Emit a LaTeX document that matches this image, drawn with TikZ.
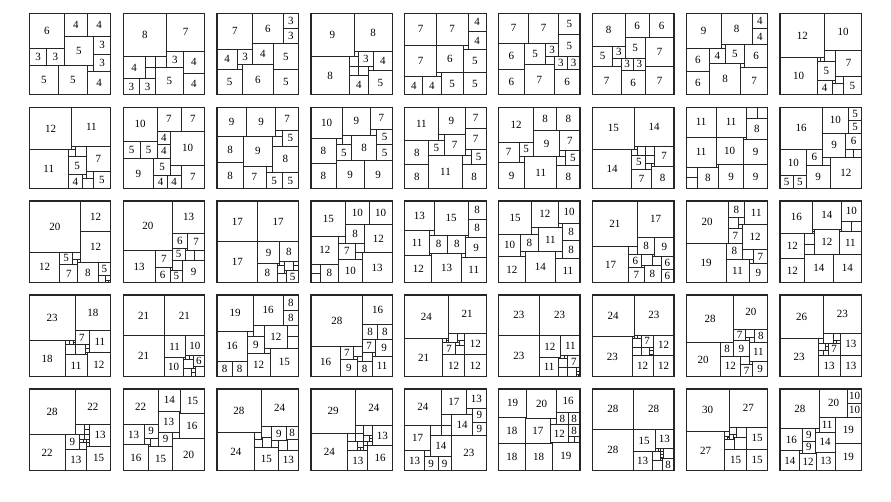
\documentclass[tikz,border=0pt]{standalone}
\usepackage{fontspec}
\setmainfont{Liberation Serif}
\tikzset{
  cell/.style={draw=black!85,line width=0.75pt},
  frame/.style={draw=black!85,line width=1.3pt},
  num/.style={inner sep=0pt,font=\fontsize{11}{11}\selectfont}
}
\newcommand\quilt[4]{%
  \pgfmathsetmacro\qu{81.5/#3}%
  \begin{scope}[shift={(29.3+93.85*#1,-13.3-93.9*#2)},x=\qu pt,y=-\qu pt]
    \foreach \a/\b/\s in {#4}{%
      \draw[cell] (\a,\b) rectangle ++(\s,\s);
      \pgfmathtruncatemacro\lab{(\s/#3>0.141)?1:0}%
      \ifnum\lab=1 \node[num] (q#3-\a-\b) at (\a+\s/2,\b+\s/2) {\s};\fi
    }
    \draw[frame] (0,0) rectangle (#3,#3);
  \end{scope}}
\begin{document}
\begin{tikzpicture}[x=1pt,y=1pt]
\useasboundingbox[fill=white] (0,0) rectangle (891,-501);
% row 1
\quilt{0}{0}{14}{0/0/6,6/0/4,10/0/4,6/4/5,11/4/3,11/7/3,0/6/3,3/6/3,0/9/5,5/9/5,10/9/1,10/10/4}
\quilt{1}{0}{15}{0/0/8,8/0/7,0/8/4,4/8/2,6/8/2,4/10/2,0/12/3,3/12/3,8/7/3,11/7/4,6/10/5,11/11/4}
\quilt{2}{0}{16}{0/0/7,7/0/6,13/0/3,13/3/3,0/7/4,4/7/3,7/6/4,11/6/5,4/10/1,0/11/5,5/10/6,11/11/5}
\quilt{3}{0}{17}{0/0/9,9/0/8,0/9/8,9/8/1,8/9/2,8/11/2,10/8/3,10/11/2,12/11/1,13/8/4,8/13/4,12/12/5}
\quilt{4}{0}{18}{0/0/7,7/0/7,14/0/4,14/4/4,0/7/7,7/7/6,13/7/1,13/8/5,0/14/4,4/14/4,7/13/1,8/13/5,13/13/5}
\quilt{5}{0}{19}{0/0/7,7/0/7,14/0/5,14/5/5,0/7/6,6/7/5,11/7/3,11/10/2,13/10/3,16/10/3,0/13/6,6/12/7,13/13/6}
\quilt{6}{0}{20}{0/0/8,8/0/6,14/0/6,0/8/5,5/8/3,8/6/5,13/6/7,5/11/2,7/11/3,10/11/3,0/13/7,7/14/6,13/13/7}
\quilt{7}{0}{21}{0/0/9,9/0/8,17/0/4,17/4/4,0/9/6,6/9/4,9/8/1,10/8/5,15/8/6,0/15/6,6/13/8,14/13/1,14/14/7}
\quilt{8}{0}{22}{0/0/12,12/0/10,12/10/3,15/10/7,0/12/10,10/12/1,11/12/1,10/13/5,10/18/4,15/17/2,14/18/1,14/19/3,17/17/5}
% row 2
\quilt{0}{1}{23}{0/0/12,12/0/11,12/11/1,13/11/3,16/11/7,0/12/11,11/12/2,11/14/5,11/19/4,16/18/2,15/19/1,15/20/3,18/18/5}
\quilt{1}{1}{24}{0/0/10,10/0/7,17/0/7,0/10/5,5/10/5,10/7/4,10/11/4,14/7/10,0/15/9,9/15/5,9/20/4,13/20/4,14/17/3,17/17/7}
\quilt{2}{1}{25}{0/0/9,9/0/9,18/0/7,18/7/2,20/7/5,0/9/8,8/9/9,17/9/3,17/12/8,0/17/8,8/18/7,15/18/2,15/20/5,20/20/5}
\quilt{3}{1}{26}{0/0/10,10/0/9,19/0/7,19/7/2,21/7/5,21/12/5,10/9/3,8/10/2,13/9/8,0/10/8,8/12/5,0/18/8,8/17/9,17/17/9}
\quilt{4}{1}{27}{0/0/11,11/0/9,20/0/7,20/7/7,11/9/2,13/9/7,0/11/8,8/11/5,20/14/2,22/14/5,8/16/11,19/16/3,0/19/8,19/19/8}
\quilt{5}{1}{28}{0/0/12,12/0/8,20/0/8,12/8/9,21/8/7,0/12/7,7/12/5,21/15/2,23/15/5,7/17/2,9/17/11,20/17/3,0/19/9,20/20/8}
\quilt{6}{1}{29}{0/0/15,15/0/14,0/15/14,14/15/2,15/14/1,16/14/3,19/14/3,22/14/7,14/17/5,19/17/3,19/20/2,21/20/1,14/22/7,21/21/8}
\quilt{7}{1}{30}{0/0/11,11/0/11,22/0/4,26/0/4,22/4/8,0/11/11,11/11/10,21/11/1,21/12/9,0/22/4,0/26/4,4/22/8,11/21/1,12/21/9,21/21/9}
\quilt{8}{1}{31}{0/0/16,16/0/10,26/0/5,26/5/5,16/10/9,25/10/6,25/16/3,28/16/3,0/16/10,10/16/6,16/19/3,0/26/5,5/26/5,10/22/9,19/19/12}
% row 3
\quilt{0}{2}{32}{0/0/20,20/0/12,20/12/12,0/20/12,12/20/5,17/20/3,17/23/2,19/23/1,12/25/7,19/24/8,27/24/5,27/29/3,30/29/2,30/31/1,31/31/1}
\quilt{1}{2}{33}{0/0/20,20/0/13,0/20/13,13/20/7,20/13/6,26/13/7,20/19/5,25/19/1,25/20/4,29/20/4,20/24/4,19/27/1,13/27/6,19/28/5,24/24/9}
\quilt{2}{2}{34}{0/0/17,17/0/17,0/17/17,17/17/9,26/17/8,17/26/8,29/29/5,25/30/4,25/27/3,25/26/1,26/25/2,28/25/4,32/25/2,32/27/2,28/29/1}
\quilt{3}{2}{35}{0/0/15,15/0/10,25/0/10,15/10/8,23/10/12,0/15/12,12/15/3,12/18/7,19/18/4,19/22/3,22/22/13,12/25/10,0/27/4,0/31/4,4/27/8}
\quilt{4}{2}{36}{0/0/13,13/0/15,28/0/8,28/8/8,0/13/11,11/13/2,11/15/8,19/15/8,27/15/1,27/16/9,0/24/12,11/23/1,12/23/13,25/23/2,25/25/11}
\quilt{5}{2}{37}{0/0/15,15/0/12,27/0/10,27/10/2,29/10/8,29/18/8,0/15/10,15/12/3,10/15/8,18/12/11,10/23/2,26/23/3,12/23/14,0/25/12,26/26/11}
\quilt{6}{2}{38}{0/0/21,21/0/17,0/21/17,21/17/8,29/17/9,17/21/4,17/25/6,23/25/5,28/25/1,28/26/4,32/26/6,23/30/1,17/31/7,24/30/8,32/32/6}
\quilt{7}{2}{39}{0/0/20,20/0/8,28/0/11,20/8/5,25/8/3,25/11/2,27/11/12,20/13/7,0/20/19,19/20/8,27/23/5,32/23/7,19/28/11,30/28/2,30/30/9}
\quilt{8}{2}{40}{0/0/16,16/0/14,30/0/10,30/10/5,35/10/5,29/14/1,16/14/1,16/15/1,17/14/12,29/15/11,0/16/12,12/16/5,12/21/5,0/28/12,12/26/14,26/26/14}
% row 4
\quilt{0}{3}{41}{0/0/23,23/0/18,0/23/18,23/18/7,30/18/11,18/23/2,20/23/2,22/23/1,22/24/1,18/25/5,23/25/5,28/25/2,28/27/2,28/29/1,18/30/11,29/29/12}
\quilt{1}{3}{42}{0/0/21,21/0/21,0/21/21,21/21/11,32/21/10,21/32/10,36/31/6,32/31/2,34/31/2,31/32/1,31/33/5,36/37/1,37/37/5,31/38/4,35/38/2,35/40/2}
\quilt{2}{3}{43}{0/0/19,19/0/16,35/0/8,35/8/8,0/19/16,0/35/8,8/35/8,16/19/3,19/16/6,25/16/12,37/16/6,37/22/6,16/22/9,25/28/3,16/31/12,28/28/15}
\quilt{3}{3}{44}{0/0/28,28/0/16,0/28/16,28/16/8,36/16/8,28/24/7,35/24/9,16/28/7,23/28/5,23/33/2,25/33/3,28/31/5,33/31/2,16/35/9,25/36/8,33/33/11}
\quilt{4}{3}{45}{0/0/24,24/0/21,0/24/21,33/21/12,21/33/12,33/33/12,21/26/7,21/24/2,23/24/1,23/25/1,24/21/5,29/21/4,29/25/1,30/25/3,28/26/2,28/28/5}
\quilt{5}{3}{46}{0/0/23,23/0/23,0/23/23,23/23/12,35/23/11,23/35/11,39/34/7,35/34/2,37/34/2,34/35/1,34/36/5,34/41/5,39/41/5,44/41/2,44/43/2,44/45/1,45/45/1}
\quilt{6}{3}{47}{0/0/24,24/0/23,0/24/23,35/23/12,23/35/12,35/35/12,28/23/7,24/23/2,26/23/2,23/24/1,23/25/5,23/30/5,28/30/5,33/30/2,33/32/2,33/34/1,34/34/1}
\quilt{7}{3}{48}{0/0/28,28/0/20,0/28/20,28/20/7,35/20/5,35/25/2,37/25/3,40/20/8,20/28/8,28/27/9,37/28/11,20/36/12,32/36/5,37/39/2,32/41/7,39/39/9}
\quilt{8}{3}{49}{0/0/26,26/0/23,0/26/23,36/23/13,23/36/13,36/36/13,29/29/7,23/26/3,26/23/6,32/23/4,32/27/2,34/27/2,23/33/3,26/33/3,23/29/4,27/29/2,27/31/2}
% row 5
\quilt{0}{4}{50}{0/0/28,28/0/22,0/28/22,37/22/13,22/37/13,35/35/15,22/28/9,28/22/6,34/22/3,34/25/3,31/28/3,34/28/3,31/31/2,33/31/2,35/31/2,31/33/4,35/33/2}
\quilt{1}{4}{51}{0/0/22,22/0/14,36/0/15,35/14/1,22/14/13,35/15/16,0/22/13,13/22/9,22/27/9,31/27/4,31/31/20,13/31/4,17/31/5,16/35/1,0/35/16,16/36/15}
\quilt{2}{4}{52}{0/0/28,28/0/24,0/28/24,24/37/15,39/39/13,35/24/9,44/24/8,28/24/7,24/28/4,24/32/5,28/31/1,29/31/6,35/33/4,39/33/6,44/32/1,45/32/7}
\quilt{3}{4}{53}{0/0/29,29/0/24,0/29/24,40/24/13,24/40/13,37/37/16,29/24/5,34/24/6,24/29/5,29/29/5,34/30/4,38/30/2,38/32/2,34/34/3,37/34/3,24/34/6,30/34/4,30/38/2,32/38/2,34/37/3}
\quilt{4}{4}{54}{0/0/24,24/0/17,41/0/13,41/13/4,45/13/9,45/22/9,24/17/7,31/17/14,0/24/17,17/24/7,24/24/7,17/31/14,31/31/23,13/41/4,0/41/13,13/45/9,22/45/9}
\quilt{5}{4}{55}{0/0/19,19/0/20,39/0/16,0/19/18,18/19/1,18/20/17,35/20/4,39/16/8,47/16/8,35/24/12,47/24/8,47/32/4,51/32/4,35/36/1,0/37/18,18/37/18,36/36/19}
\quilt{6}{4}{56}{0/0/28,28/0/28,0/28/28,28/28/15,43/28/13,28/43/13,48/48/8,43/41/2,45/41/2,47/41/2,49/41/7,41/43/6,47/43/2,47/45/2,47/47/1,48/47/1,47/48/1,41/49/7}
\quilt{7}{4}{57}{0/0/30,30/0/27,0/30/27,42/27/15,27/42/15,42/42/15,35/27/7,34/34/8,27/35/7,30/27/5,27/30/3,27/33/2,29/33/1,29/34/1,30/32/3,33/32/2,33/34/1}
\quilt{8}{4}{58}{0/0/28,28/0/20,48/0/10,48/10/10,28/20/11,39/20/19,25/28/3,0/28/16,16/28/9,16/37/9,25/31/14,39/39/19,0/44/14,14/44/2,25/45/1,14/46/12,26/45/13}
\end{tikzpicture}
\end{document}
